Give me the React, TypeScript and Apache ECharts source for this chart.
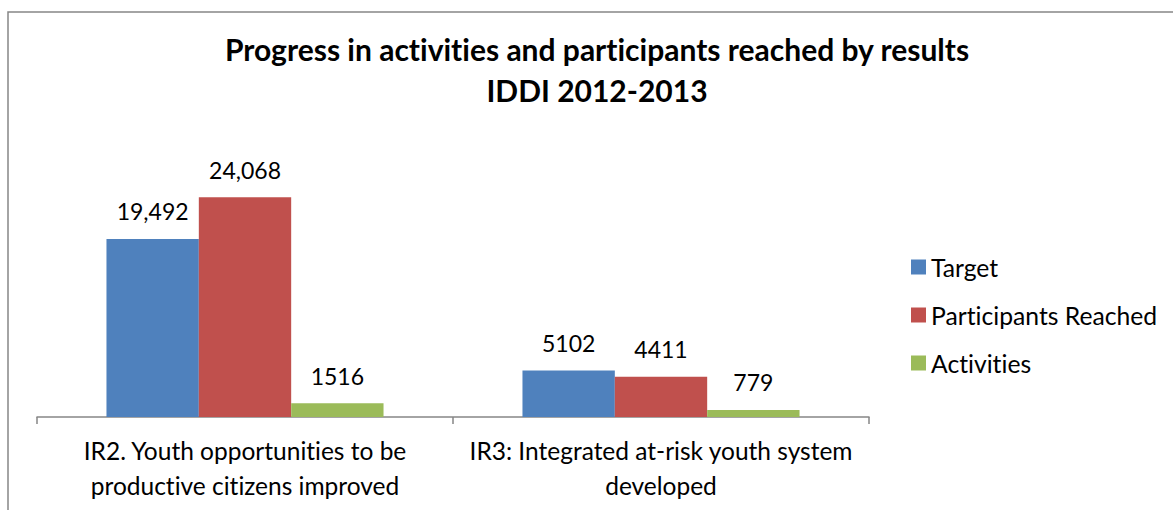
import React, { useEffect, useRef } from "react";
import * as echarts from "echarts";

const categories = [
  "IR2. Youth opportunities to be\nproductive citizens improved",
  "IR3: Integrated at-risk youth system\ndeveloped",
];
const seriesNames = ["Target", "Participants Reached", "Activities"];
const targetValues = [19492, 5102];
const reachedValues = [24068, 4411];
const activityValues = [1516, 779];
const seriesColors = ["#4F81BD", "#C0504D", "#9BBB59"];

const FONT = "Lato, 'Open Sans', sans-serif";

// Excel-style number format: thousands separator only on five-digit values
const fmt = (v: number) => (v >= 10000 ? v.toLocaleString("en-US") : String(v));

export default function App() {
  const ref = useRef<HTMLDivElement>(null);

  useEffect(() => {
    if (!ref.current) return;
    const chart = echarts.init(ref.current, null, { renderer: "svg" });
    const values = [targetValues, reachedValues, activityValues];
    chart.setOption({
      animation: false,
      backgroundColor: "#ffffff",
      title: {
        text: "Progress in activities and participants reached by results\nIDDI 2012-2013",
        left: 592,
        top: 23,
        textAlign: "center",
        textStyle: {
          fontFamily: FONT,
          fontSize: 30,
          fontWeight: "bold",
          color: "#000",
          lineHeight: 41,
        },
      },
      legend: {
        orient: "vertical",
        left: 906,
        top: 249,
        icon: "rect",
        itemWidth: 15,
        itemHeight: 15,
        itemGap: 22,
        data: seriesNames,
        textStyle: { fontFamily: FONT, fontSize: 24.7, color: "#000", lineHeight: 26 },
      },
      grid: { left: 37, right: 304, top: 143, bottom: 93 },
      xAxis: {
        type: "category",
        data: categories,
        axisLine: { lineStyle: { color: "#868686", width: 1.5 } },
        axisTick: { show: true, length: 7, lineStyle: { color: "#868686", width: 1.5 } },
        axisLabel: {
          fontFamily: FONT,
          fontSize: 24.5,
          color: "#000",
          lineHeight: 35,
          margin: 16,
          interval: 0,
        },
      },
      yAxis: { type: "value", min: 0, max: 30000, show: false },
      series: seriesNames.map((name, i) => ({
        name,
        type: "bar",
        data: values[i],
        barGap: "0%",
        barCategoryGap: "33.4%",
        itemStyle: { color: seriesColors[i] },
        label: {
          show: true,
          position: "top",
          distance: 16,
          fontFamily: FONT,
          fontSize: 23,
          color: "#000",
          formatter: (p: any) => fmt(p.value),
        },
      })),
      graphic: [
        {
          type: "rect",
          shape: { x: 8, y: 12, width: 1300, height: 600 },
          style: { fill: "none", stroke: "#868686", lineWidth: 1.5 },
          silent: true,
        },
      ],
    });
    return () => chart.dispose();
  }, []);

  return (
    <>
      <style>{"#chart-box text { font-variant-ligatures: none; font-feature-settings: 'liga' 0; }"}</style>
      <div
        id="chart-box"
        ref={ref}
        style={{ position: "fixed", left: 0, top: 0, width: 1173, height: 510 }}
      />
    </>
  );
}
